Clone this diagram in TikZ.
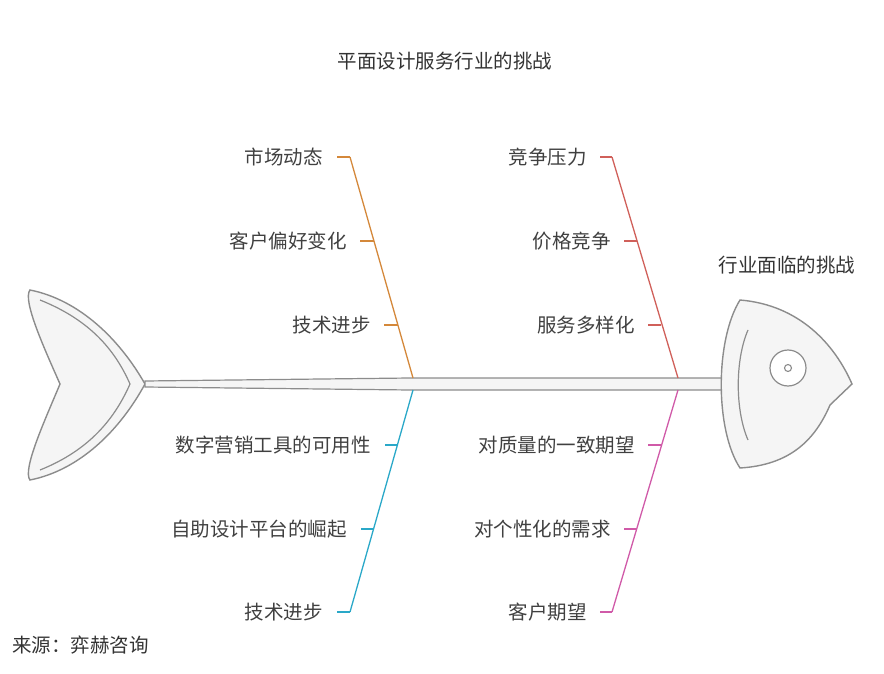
\documentclass[tikz,border=0pt]{standalone}
\usepackage{fontspec}
\setmainfont{Noto Sans CJK SC}
\begin{document}
\begin{tikzpicture}[x=1pt,y=-1pt,
  fnt/.style={font=\fontsize{19.5}{22}\selectfont},
  lbl/.style={fnt,text=black!75,anchor=east,inner sep=0pt},
  fishline/.style={draw=black!45,line width=1.4pt,fill=black!4},
  bone/.style={line width=1.3pt}]
\useasboundingbox (0,0) rectangle (884,674);
\definecolor{cor}{HTML}{D4883A}\definecolor{cre}{HTML}{D0605A}
\definecolor{cbl}{HTML}{2AA8C8}\definecolor{cpk}{HTML}{D05AA8}
\node[fnt,text=black!80] (title) at (445,61) {平面设计服务行业的挑战};
% tail
\path[fishline] (30,290) .. controls (80,300) and (120,340) .. (145,384)
  .. controls (120,430) and (80,470) .. (30,480)
  .. controls (22,470) and (45,420) .. (60,384)
  .. controls (45,350) and (22,300) .. (30,290) -- cycle;
\draw[black!45,line width=1.2pt] (40,300) .. controls (90,320) and (115,350) .. (130,384) .. controls (115,418) and (90,450) .. (40,470);
% spine
\path[fishline,line width=1.2pt] (145,381) -- (410,378) -- (722,378) -- (722,390) -- (410,390) -- (145,387) -- cycle;
% head
\path[fishline] (740,300) .. controls (800,305) and (835,345) .. (852,384)
  -- (830,405) .. controls (815,440) and (790,465) .. (740,468)
  .. controls (715,430) and (715,340) .. (740,300) -- cycle;
\draw[black!45,line width=1.2pt] (748,330) .. controls (735,360) and (735,410) .. (748,440);
\draw[black!45,line width=1.2pt,fill=white] (788,368) circle (18);
\draw[black!45,line width=1.1pt] (788,368) circle (3.5);
\node[fnt,text=black!80] (head) at (787,265) {行业面临的挑战};
% orange
\coordinate (o0) at (413,378); \coordinate (o1) at (350,157);
\draw[bone,cor] (o0) -- (o1);
\draw[bone,cor] (337,157) -- (350,157) (360,241) -- (374,241) (384,325) -- (398,325);
\node[lbl] (a1) at (323,157) {市场动态};
\node[lbl] (a2) at (347,241) {客户偏好变化};
\node[lbl] (a3) at (371,325) {技术进步};
% red
\coordinate (r0) at (678,378); \coordinate (r1) at (612,157);
\draw[bone,cre] (r0) -- (r1);
\draw[bone,cre] (600,157) -- (612,157) (624,241) -- (637,241) (648,325) -- (661,325);
\node[lbl] (b1) at (587,157) {竞争压力};
\node[lbl] (b2) at (611,241) {价格竞争};
\node[lbl] (b3) at (635,325) {服务多样化};
% blue
\coordinate (c0) at (413,390); \coordinate (c1) at (350,612);
\draw[bone,cbl] (c0) -- (c1);
\draw[bone,cbl] (385,445) -- (398,445) (361,529) -- (374,529) (337,612) -- (350,612);
\node[lbl] (d1) at (371,445) {数字营销工具的可用性};
\node[lbl] (d2) at (347,529) {自助设计平台的崛起};
\node[lbl] (d3) at (323,612) {技术进步};
% pink
\coordinate (p0) at (678,390); \coordinate (p1) at (612,612);
\draw[bone,cpk] (p0) -- (p1);
\draw[bone,cpk] (648,445) -- (661,445) (624,529) -- (637,529) (600,612) -- (612,612);
\node[lbl] (e1) at (635,445) {对质量的一致期望};
\node[lbl] (e2) at (611,529) {对个性化的需求};
\node[lbl] (e3) at (587,612) {客户期望};
\node[fnt,text=black!80,anchor=west,inner sep=0pt] (src) at (12,645) {来源：弈赫咨询};
\end{tikzpicture}
\end{document}
